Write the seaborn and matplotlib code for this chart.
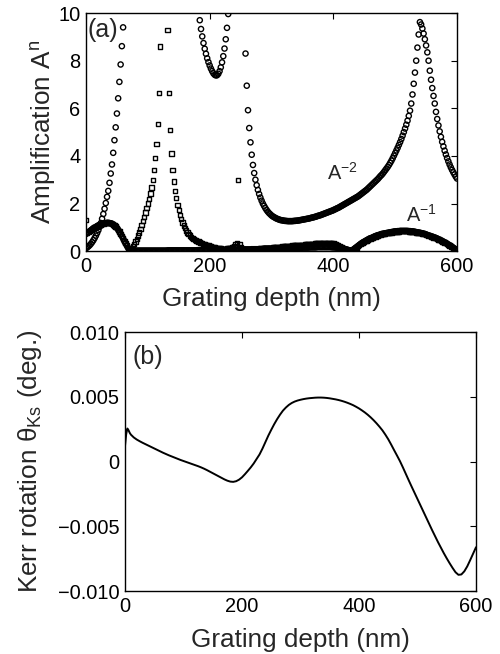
import numpy as np
import matplotlib
matplotlib.use("Agg")
import matplotlib.pyplot as plt
import seaborn as sns
import pandas as pd

nan = np.nan

# ---- Panel (a): amplification versus grating depth (2 nm sampling) ----
depth = np.arange(0, 601, 2)

# A^-2 order; NaN where the value is off scale (> 10)
amp_m2 = [
    0.12, 0.16, 0.20, 0.25, 0.31, 0.38, 0.46, 0.55, 0.65, 0.76,   # 0-18
    0.88, 1.02, 1.18, 1.36, 1.56, 1.78, 2.02, 2.28, 2.53, 2.87,   # 20-38
    3.26, 3.64, 4.13, 4.66, 5.20, 5.78, 6.42, 7.11, 7.84, 8.61,   # 40-58
    9.40, nan, nan, nan, nan, nan, nan, nan, nan, nan,            # 60-78
    nan, nan, nan, nan, nan, nan, nan, nan, nan, nan,             # 80-98
    nan, nan, nan, nan, nan, nan, nan, nan, nan, nan,             # 100-118
    nan, nan, nan, nan, nan, nan, nan, nan, nan, nan,             # 120-138
    nan, nan, nan, nan, nan, nan, nan, nan, nan, nan,             # 140-158
    nan, nan, nan, nan, nan, nan, nan, nan, nan, nan,             # 160-178
    nan, nan, 9.70, 9.33, 9.02, 8.74, 8.50, 8.29, 8.10, 7.94,     # 180-198
    7.80, 7.67, 7.56, 7.47, 7.41, 7.38, 7.39, 7.45, 7.56, 7.72,   # 200-218
    7.93, 8.19, 8.51, 8.90, 9.38, 9.96, nan, nan, nan, nan,       # 220-238
    nan, nan, nan, nan, nan, nan, nan, nan, nan, 8.30,            # 240-258
    6.95, 5.92, 5.17, 4.57, 4.05, 3.62, 3.28, 3.00, 2.77, 2.57,   # 260-278
    2.40, 2.25, 2.12, 2.00, 1.90, 1.81, 1.73, 1.66, 1.60, 1.55,   # 280-298
    1.50, 1.46, 1.43, 1.40, 1.37, 1.35, 1.33, 1.31, 1.30, 1.29,   # 300-318
    1.28, 1.27, 1.27, 1.26, 1.26, 1.26, 1.26, 1.26, 1.27, 1.27,   # 320-338
    1.28, 1.28, 1.29, 1.30, 1.31, 1.32, 1.33, 1.34, 1.35, 1.36,   # 340-358
    1.37, 1.38, 1.40, 1.41, 1.42, 1.44, 1.45, 1.47, 1.49, 1.50,   # 360-378
    1.52, 1.54, 1.56, 1.58, 1.60, 1.62, 1.64, 1.66, 1.68, 1.70,   # 380-398
    1.72, 1.75, 1.77, 1.80, 1.82, 1.85, 1.88, 1.91, 1.94, 1.97,   # 400-418
    2.00, 2.03, 2.06, 2.09, 2.12, 2.15, 2.18, 2.21, 2.24, 2.27,   # 420-438
    2.30, 2.34, 2.38, 2.42, 2.46, 2.50, 2.54, 2.58, 2.63, 2.68,   # 440-458
    2.73, 2.78, 2.83, 2.88, 2.93, 2.98, 3.03, 3.09, 3.15, 3.20,   # 460-478
    3.26, 3.33, 3.40, 3.47, 3.54, 3.62, 3.71, 3.80, 3.90, 4.01,   # 480-498
    4.12, 4.23, 4.34, 4.46, 4.58, 4.71, 4.85, 5.00, 5.15, 5.31,   # 500-518
    5.48, 5.68, 5.90, 6.20, 6.58, 7.03, 7.50, 8.00, 8.55, 9.10,   # 520-538
    9.62, 9.52, 9.35, 9.14, 8.90, 8.64, 8.35, 8.00, 7.58, 7.20,   # 540-558
    6.85, 6.52, 6.20, 5.85, 5.55, 5.28, 5.03, 4.80, 4.59, 4.40,   # 560-578
    4.22, 4.06, 3.91, 3.77, 3.64, 3.52, 3.41, 3.31, 3.22, 3.13,   # 580-598
    3.05,                                                         # 600
]

# A^-1 order
amp_m1 = [
    0.72, 0.76, 0.80, 0.84, 0.88, 0.92, 0.96, 0.99, 1.02, 1.05,   # 0-18
    1.08, 1.10, 1.12, 1.14, 1.16, 1.17, 1.18, 1.19, 1.19, 1.18,   # 20-38
    1.17, 1.15, 1.12, 1.08, 1.03, 0.97, 0.90, 0.82, 0.73, 0.63,   # 40-58
    0.53, 0.43, 0.33, 0.23, 0.14, 0.06, 0.02, 0.02, 0.02, 0.02,   # 60-78
    0.02, 0.02, 0.02, 0.02, 0.02, 0.02, 0.02, 0.02, 0.02, 0.02,   # 80-98
    0.02, 0.02, 0.02, 0.02, 0.02, 0.02, 0.02, 0.02, 0.02, 0.02,   # 100-118
    0.02, 0.02, 0.02, 0.02, 0.02, 0.02, 0.03, 0.03, 0.03, 0.03,   # 120-138
    0.03, 0.03, 0.03, 0.03, 0.03, 0.03, 0.03, 0.03, 0.03, 0.03,   # 140-158
    0.03, 0.03, 0.03, 0.03, 0.03, 0.03, 0.03, 0.03, 0.03, 0.03,   # 160-178
    0.04, 0.04, 0.04, 0.04, 0.04, 0.04, 0.04, 0.04, 0.04, 0.04,   # 180-198
    0.04, 0.04, 0.05, 0.05, 0.05, 0.05, 0.05, 0.05, 0.05, 0.05,   # 200-218
    0.05, 0.05, 0.05, 0.05, 0.05, 0.06, 0.06, 0.06, 0.06, 0.06,   # 220-238
    0.06, 0.06, 0.06, 0.06, 0.06, 0.06, 0.06, 0.06, 0.07, 0.07,   # 240-258
    0.07, 0.07, 0.07, 0.07, 0.08, 0.08, 0.08, 0.08, 0.08, 0.08,   # 260-278
    0.09, 0.09, 0.09, 0.09, 0.10, 0.10, 0.10, 0.10, 0.10, 0.10,   # 280-298
    0.10, 0.10, 0.11, 0.11, 0.11, 0.11, 0.11, 0.11, 0.12, 0.12,   # 300-318
    0.12, 0.12, 0.12, 0.12, 0.13, 0.13, 0.13, 0.13, 0.13, 0.13,   # 320-338
    0.14, 0.14, 0.14, 0.14, 0.14, 0.15, 0.15, 0.15, 0.15, 0.15,   # 340-358
    0.15, 0.16, 0.16, 0.16, 0.16, 0.16, 0.16, 0.17, 0.17, 0.17,   # 360-378
    0.17, 0.17, 0.17, 0.17, 0.17, 0.17, 0.17, 0.17, 0.17, 0.16,   # 380-398
    0.16, 0.16, 0.15, 0.15, 0.14, 0.13, 0.12, 0.11, 0.10, 0.09,   # 400-418
    0.08, 0.06, 0.05, 0.03, 0.02, 0.03, 0.06, 0.10, 0.14, 0.18,   # 420-438
    0.22, 0.26, 0.30, 0.34, 0.37, 0.40, 0.43, 0.46, 0.49, 0.52,   # 440-458
    0.54, 0.56, 0.58, 0.61, 0.63, 0.65, 0.67, 0.68, 0.70, 0.72,   # 460-478
    0.73, 0.74, 0.75, 0.76, 0.77, 0.78, 0.79, 0.80, 0.81, 0.82,   # 480-498
    0.83, 0.83, 0.84, 0.84, 0.85, 0.85, 0.85, 0.85, 0.85, 0.85,   # 500-518
    0.85, 0.84, 0.84, 0.83, 0.83, 0.82, 0.81, 0.80, 0.79, 0.78,   # 520-538
    0.77, 0.76, 0.75, 0.73, 0.72, 0.70, 0.68, 0.66, 0.64, 0.62,   # 540-558
    0.61, 0.59, 0.57, 0.55, 0.53, 0.50, 0.48, 0.45, 0.42, 0.40,   # 560-578
    0.37, 0.34, 0.31, 0.28, 0.25, 0.21, 0.18, 0.14, 0.11, 0.07,   # 580-598
    0.04,                                                         # 600
]

# Second-polarisation amplification (square markers)
amp_sq = [
    1.30, 0.76, 0.80, 0.84, 0.88, 0.92, 0.96, 0.99, 1.02, 1.05,   # 0-18
    1.08, 1.10, 1.12, 1.14, 1.16, 1.17, 1.18, 1.19, 1.19, 1.18,   # 20-38
    1.17, 1.15, 1.12, 1.08, 1.03, 0.97, 0.90, 0.82, 0.73, 0.63,   # 40-58
    0.53, 0.43, 0.33, 0.23, 0.14, 0.06, 0.03, 0.10, 0.19, 0.29,   # 60-78
    0.40, 0.52, 0.65, 0.79, 0.94, 1.10, 1.27, 1.44, 1.62, 1.81,   # 80-98
    2.00, 2.20, 2.42, 2.68, 3.00, 3.40, 3.90, 4.50, 5.35, 6.65,   # 100-118
    8.60, nan, nan, nan, nan, nan, 9.30, 6.65, 5.10, 4.10,        # 120-138
    3.42, 2.92, 2.53, 2.22, 1.95, 1.72, 1.52, 1.35, 1.20, 1.07,   # 140-158
    0.96, 0.86, 0.78, 0.71, 0.65, 0.60, 0.55, 0.51, 0.48, 0.45,   # 160-178
    0.42, 0.40, 0.37, 0.35, 0.33, 0.31, 0.29, 0.27, 0.25, 0.23,   # 180-198
    0.21, 0.19, 0.18, 0.16, 0.15, 0.14, 0.13, 0.12, 0.11, 0.11,   # 200-218
    0.10, 0.10, 0.10, 0.10, 0.11, 0.11, 0.12, 0.13, 0.15, 0.18,   # 220-238
    0.22, 0.28, 0.35, 3.00, 0.30, 0.15, 0.10, 0.07, 0.06, 0.05,   # 240-258
    0.05, 0.05, 0.05, 0.06, 0.06, 0.07, 0.07, 0.08, 0.08, 0.09,   # 260-278
    0.09, 0.10, 0.10, 0.11, 0.11, 0.12, 0.12, 0.13, 0.13, 0.14,   # 280-298
    0.14, 0.15, 0.15, 0.16, 0.16, 0.17, 0.17, 0.18, 0.18, 0.19,   # 300-318
    0.19, 0.20, 0.20, 0.21, 0.21, 0.22, 0.22, 0.23, 0.23, 0.24,   # 320-338
    0.24, 0.25, 0.25, 0.26, 0.26, 0.27, 0.27, 0.28, 0.28, 0.29,   # 340-358
    0.29, 0.30, 0.30, 0.31, 0.31, 0.32, 0.32, 0.33, 0.33, 0.34,   # 360-378
    0.34, 0.34, 0.35, 0.35, 0.35, 0.35, 0.35, 0.34, 0.34, 0.33,   # 380-398
    0.32, 0.30, 0.28, 0.26, 0.24, 0.21, 0.18, 0.15, 0.12, 0.09,   # 400-418
    0.07, 0.05, 0.03, 0.02, 0.02, 0.03, 0.05, 0.08, 0.12, 0.16,   # 420-438
    0.21, 0.25, 0.29, 0.33, 0.36, 0.39, 0.42, 0.45, 0.48, 0.51,   # 440-458
    0.53, 0.55, 0.57, 0.60, 0.62, 0.64, 0.66, 0.67, 0.69, 0.71,   # 460-478
    0.72, 0.73, 0.74, 0.75, 0.76, 0.77, 0.78, 0.79, 0.80, 0.81,   # 480-498
    0.82, 0.82, 0.83, 0.83, 0.84, 0.84, 0.84, 0.84, 0.84, 0.84,   # 500-518
    0.84, 0.83, 0.83, 0.82, 0.82, 0.81, 0.80, 0.79, 0.78, 0.77,   # 520-538
    0.76, 0.75, 0.74, 0.72, 0.71, 0.69, 0.67, 0.65, 0.63, 0.61,   # 540-558
    0.60, 0.58, 0.56, 0.54, 0.52, 0.49, 0.47, 0.44, 0.41, 0.39,   # 560-578
    0.36, 0.33, 0.30, 0.27, 0.24, 0.20, 0.17, 0.13, 0.10, 0.06,   # 580-598
    0.03,                                                         # 600
]

# ---- Panel (b): Kerr rotation versus grating depth (values in millidegrees) ----
kerr_depth = [0, 2, 4, 6, 8, 10, 15, 20, 25, 30, 35, 40, 45, 50, 55, 60,
              65, 70, 75, 80, 85, 90, 95, 100, 105, 110, 115, 120, 125, 130,
              135, 140, 145, 150, 155, 160, 165, 170, 175, 180, 185, 190,
              195, 200, 205, 210, 215, 220, 225, 230, 235, 240, 245, 250,
              255, 260, 265, 270, 275, 280, 285, 290, 295, 300, 305, 310,
              315, 320, 325, 330, 335, 340, 345, 350, 355, 360, 365, 370,
              375, 380, 385, 390, 395, 400, 405, 410, 415, 420, 425, 430,
              435, 440, 445, 450, 455, 460, 465, 470, 475, 480, 485, 490,
              495, 500, 505, 510, 515, 520, 525, 530, 535, 540, 545, 550,
              555, 560, 565, 570, 575, 580, 585, 590, 595, 600]
kerr_mdeg = [
    1.20, 2.10, 2.55, 2.42, 2.22, 2.08,                                   # 0-10
    1.86, 1.70, 1.57, 1.45, 1.34, 1.23, 1.12, 1.01, 0.90, 0.79,           # 15-60
    0.68, 0.58, 0.48, 0.39, 0.30, 0.21, 0.12, 0.04, -0.04, -0.12,         # 65-110
    -0.20, -0.28, -0.36, -0.45, -0.55, -0.66, -0.78, -0.90, -1.02, -1.14, # 115-160
    -1.26, -1.38, -1.48, -1.55, -1.57, -1.52, -1.40, -1.22, -0.98, -0.72, # 165-210
    -0.45, -0.15, 0.20, 0.55, 1.00, 1.50, 2.00, 2.45, 2.88, 3.27,         # 215-260
    3.62, 3.93, 4.17, 4.37, 4.52, 4.63, 4.71, 4.77, 4.82, 4.86,           # 265-310
    4.89, 4.91, 4.93, 4.94, 4.94, 4.93, 4.91, 4.88, 4.84, 4.80,           # 315-360
    4.75, 4.69, 4.62, 4.54, 4.45, 4.35, 4.23, 4.10, 3.95, 3.79,           # 365-410
    3.61, 3.41, 3.19, 2.95, 2.69, 2.41, 2.08, 1.72, 1.31, 0.88,           # 415-460
    0.46, 0.03, -0.45, -0.95, -1.45, -1.94, -2.42, -2.90, -3.38, -3.86,   # 465-510
    -4.34, -4.82, -5.30, -5.76, -6.22, -6.65, -7.08, -7.48, -7.86, -8.22, # 515-560
    -8.55, -8.75, -8.72, -8.48, -8.10, -7.62, -7.12, -6.62,               # 565-600
]

x_ticks = [0, 200, 400, 600]
amp_ticks = [0, 2, 4, 6, 8, 10]
kerr_ticks = [-0.010, -0.005, 0, 0.005, 0.010]
kerr_tick_labels = ["\u22120.010", "\u22120.005", "0", "0.005", "0.010"]

sns.set_theme(style="white")
plt.rcParams["font.family"] = ["Liberation Sans", "DejaVu Sans"]
plt.rcParams["mathtext.fontset"] = "custom"
plt.rcParams["mathtext.rm"] = "Liberation Sans"
plt.rcParams["mathtext.it"] = "Liberation Sans:italic"
plt.rcParams["mathtext.sf"] = "Liberation Sans"

TICK_FS = 14.4
LABEL_FS = 18.8

fig = plt.figure(figsize=(5.0, 6.54), dpi=100)
ax1 = fig.add_axes([0.172, 0.616, 0.742, 0.364])
ax2 = fig.add_axes([0.250, 0.0963, 0.702, 0.396])

amp_df = pd.DataFrame({"depth": depth, "m2": amp_m2, "m1": amp_m1, "sq": amp_sq})
kerr_df = pd.DataFrame({"depth": kerr_depth,
                        "theta": np.array(kerr_mdeg) * 1e-3})

marker_style = dict(facecolor="none", edgecolor="black", linewidth=1.0,
                    legend=False, ax=ax1)
sns.scatterplot(data=amp_df, x="depth", y="sq", marker="s", s=10, **marker_style)
sns.scatterplot(data=amp_df, x="depth", y="m1", marker="o", s=14, **marker_style)
sns.scatterplot(data=amp_df, x="depth", y="m2", marker="o", s=14, **marker_style)

ax1.set_xlim(0, 600)
ax1.set_ylim(0, 10)
ax1.set_xticks(x_ticks)
ax1.set_yticks(amp_ticks)
ax1.set_xlabel("Grating depth (nm)", fontsize=LABEL_FS, labelpad=8)
ax1.set_ylabel(r"Amplification A$^{\mathrm{n}}$", fontsize=LABEL_FS, labelpad=0)
ax1.text(2, 9.3, "(a)", fontsize=18, ha="left", va="center")
ax1.text(390, 2.98, r"A$^{\mathrm{-2}}$", fontsize=TICK_FS, ha="left", va="baseline")
ax1.text(517, 1.23, r"A$^{\mathrm{-1}}$", fontsize=TICK_FS, ha="left", va="baseline")

sns.lineplot(data=kerr_df, x="depth", y="theta", color="black", linewidth=1.4,
             ax=ax2)
ax2.set_xlim(0, 600)
ax2.set_ylim(-0.010, 0.010)
ax2.set_xticks(x_ticks)
ax2.set_yticks(kerr_ticks)
ax2.set_yticklabels(kerr_tick_labels)
ax2.set_xlabel("Grating depth (nm)", fontsize=LABEL_FS, labelpad=9)
ax2.set_ylabel(r"Kerr rotation $\mathrm{\theta_{Ks}}$ (deg.)", fontsize=LABEL_FS,
               labelpad=10)
ax2.text(12, 0.0081, "(b)", fontsize=18, ha="left", va="center")

for ax in (ax1, ax2):
    ax.tick_params(direction="in", top=True, right=True, length=4, width=0.8,
                   labelsize=TICK_FS, colors="black", pad=4)
    for sp in ax.spines.values():
        sp.set_linewidth(1.0)
        sp.set_color("black")
        sp.set_visible(True)

fig.savefig("out.png", dpi=100, facecolor="white")
